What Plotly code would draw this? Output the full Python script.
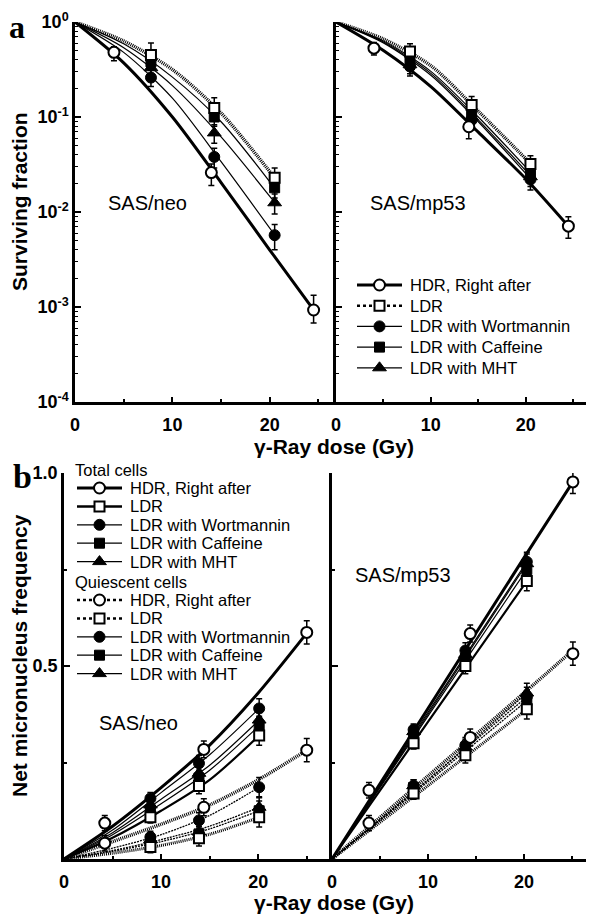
import plotly.graph_objects as go

# reference canvas (pixels) and the page's default 8px body margin
W, H = 594, 917
OFF = 8
FW, FH = W - OFF, H - OFF

# ================= Panel a : surviving fraction (log scale) =================
a_hdr_dose = [4.0, 14.0, 24.5]
a_ldr_dose = [7.8, 14.3, 20.5]

neo_hdr_sf = [0.48, 0.026, 0.00093]
neo_hdr_err_up = [0.07, 0.006, 0.0004]
neo_hdr_err_dn = [0.09, 0.007, 0.00025]
neo_ldr_sf = [0.45, 0.124, 0.023]
neo_ldr_err_up = [0.15, 0.035, 0.006]
neo_ldr_err_dn = [0.10, 0.030, 0.005]
neo_caf_sf = [0.38, 0.100, 0.018]
neo_caf_err = [0.07, 0.020, 0.004]
neo_mht_sf = [0.33, 0.068, 0.0125]
neo_mht_err = [0.06, 0.015, 0.003]
neo_wor_sf = [0.26, 0.038, 0.0057]
neo_wor_err = [0.05, 0.009, 0.0017]

mp_hdr_sf = [0.53, 0.079, 0.0071]
mp_hdr_err = [0.08, 0.020, 0.0018]
mp_ldr_sf = [0.49, 0.134, 0.032]
mp_ldr_err = [0.10, 0.030, 0.007]
mp_caf_sf = [0.38, 0.105, 0.026]
mp_mht_sf = [0.355, 0.100, 0.0235]
mp_wor_sf = [0.34, 0.093, 0.022]
mp_drug_err = [0.07, 0.020, 0.005]

# fitted curves
a_curve_hdr_dose = [0, 5, 10, 15, 20, 24.5]
a_curve_ldr_dose = [0, 5, 10, 15, 20.5]
neo_hdr_curve = [1, 0.372, 0.100, 0.0204, 0.00398, 0.00093]
neo_ldr_curve = [1, 0.631, 0.316, 0.110, 0.0229]
neo_caf_curve = [1, 0.589, 0.263, 0.0891, 0.0178]
neo_mht_curve = [1, 0.537, 0.214, 0.0617, 0.0126]
neo_wor_curve = [1, 0.479, 0.158, 0.0339, 0.00575]
mp_hdr_curve = [1, 0.501, 0.209, 0.0692, 0.0224, 0.00708]
mp_ldr_curve = [1, 0.661, 0.347, 0.115, 0.0324]
mp_caf_curve = [1, 0.631, 0.302, 0.100, 0.0263]
mp_mht_curve = [1, 0.617, 0.288, 0.0933, 0.0240]
mp_wor_curve = [1, 0.603, 0.275, 0.0891, 0.0224]

# ================= Panel b : net micronucleus frequency =================
b_neo_hdr_dose = [4.2, 14.4, 25.0]
b_neo_ldr_dose = [8.9, 13.9, 20.1]
b_mp_hdr_dose = [3.85, 14.4, 25.1]
b_mp_ldr_dose = [8.5, 13.9, 20.3]

neo_t_hdr = [0.093, 0.284, 0.587]
neo_t_ldr = [0.108, 0.189, 0.320]
neo_t_caf = [0.127, 0.210, 0.345]
neo_t_mht = [0.140, 0.222, 0.360]
neo_t_wor = [0.157, 0.248, 0.390]
neo_q_hdr = [0.041, 0.134, 0.282]
neo_q_ldr = [0.031, 0.054, 0.108]
neo_q_caf = [0.045, 0.065, 0.125]
neo_q_mht = [0.050, 0.070, 0.134]
neo_q_wor = [0.057, 0.100, 0.186]

mp_t_hdr = [0.178, 0.584, 0.977]
mp_t_ldr = [0.300, 0.500, 0.720]
mp_t_caf = [0.320, 0.520, 0.750]
mp_t_mht = [0.330, 0.530, 0.765]
mp_t_wor = [0.335, 0.540, 0.770]
mp_q_hdr = [0.093, 0.315, 0.532]
mp_q_ldr = [0.170, 0.269, 0.388]
mp_q_caf = [0.185, 0.285, 0.410]
mp_q_mht = [0.190, 0.290, 0.430]
mp_q_wor = [0.190, 0.295, 0.420]

b_err_small = [0.015, 0.020, 0.025]
b_err_hdr = [0.020, 0.022, 0.030]

# fitted curves
b_neo_curve_hdr_dose = [0, 5, 10, 15, 20, 25]
b_neo_curve_ldr_dose = [0, 5, 10, 15, 20.1]
neo_t_hdr_curve = [0, 0.085, 0.185, 0.295, 0.430, 0.585]
neo_t_ldr_curve = [0, 0.055, 0.125, 0.205, 0.320]
neo_t_caf_curve = [0, 0.063, 0.143, 0.230, 0.345]
neo_t_mht_curve = [0, 0.068, 0.155, 0.243, 0.360]
neo_t_wor_curve = [0, 0.075, 0.172, 0.270, 0.390]
neo_q_hdr_curve = [0, 0.045, 0.090, 0.140, 0.205, 0.282]
neo_q_ldr_curve = [0, 0.015, 0.035, 0.064, 0.108]
neo_q_caf_curve = [0, 0.020, 0.045, 0.078, 0.125]
neo_q_mht_curve = [0, 0.022, 0.050, 0.085, 0.134]
neo_q_wor_curve = [0, 0.028, 0.063, 0.113, 0.186]

b_mp_curve_hdr_dose = [0, 10, 20, 25.1]
b_mp_curve_qhdr_dose = [0, 10, 20, 24.7]
b_mp_curve_ldr_dose = [0, 10, 20.3]
mp_t_hdr_curve = [0, 0.390, 0.780, 0.977]
mp_t_ldr_curve = [0, 0.355, 0.720]
mp_t_caf_curve = [0, 0.370, 0.750]
mp_t_mht_curve = [0, 0.375, 0.765]
mp_t_wor_curve = [0, 0.380, 0.770]
mp_q_hdr_curve = [0, 0.215, 0.430, 0.532]
mp_q_ldr_curve = [0, 0.190, 0.388]
mp_q_caf_curve = [0, 0.200, 0.410]
mp_q_mht_curve = [0, 0.205, 0.430]
mp_q_wor_curve = [0, 0.205, 0.420]

legend_a_labels = ["HDR, Right after", "LDR", "LDR with Wortmannin",
                   "LDR with Caffeine", "LDR with MHT"]
legend_b_titles = ["Total cells", "Quiescent cells"]

# ================= styles =================
MARK = {
    'hdr': dict(symbol='circle', size=11, color='white', line=dict(color='black', width=2)),
    'ldr': dict(symbol='square', size=10, color='white', line=dict(color='black', width=2)),
    'wor': dict(symbol='circle', size=11, color='black', line=dict(color='black', width=1)),
    'caf': dict(symbol='square', size=10, color='black', line=dict(color='black', width=1)),
    'mht': dict(symbol='triangle-up', size=12, color='black', line=dict(color='black', width=1)),
}
HATCH = '1px,1px'
THIN_DASH = '2px,1px'
SANS = 'Liberation Sans'

fig = go.Figure()


def curve(x, y, xa, ya, width, dash='solid'):
    fig.add_trace(go.Scatter(x=x, y=y, mode='lines', xaxis=xa, yaxis=ya,
                             line=dict(color='black', width=width, dash=dash,
                                       shape='spline', smoothing=0.8),
                             showlegend=False, hoverinfo='skip'))


def points(x, y, up, dn, kind, xa, ya):
    fig.add_trace(go.Scatter(x=x, y=y, mode='markers', xaxis=xa, yaxis=ya,
                             marker=MARK[kind],
                             error_y=dict(type='data', symmetric=False, array=up,
                                          arrayminus=dn, color='black',
                                          thickness=1.5, width=3),
                             showlegend=False, hoverinfo='skip'))


# ---- panel a left (SAS/neo)
curve(a_curve_ldr_dose, neo_wor_curve, 'x', 'y', 1.2)
curve(a_curve_ldr_dose, neo_mht_curve, 'x', 'y', 1.2)
curve(a_curve_ldr_dose, neo_caf_curve, 'x', 'y', 1.2)
curve(a_curve_ldr_dose, neo_ldr_curve, 'x', 'y', 3.5, HATCH)
curve(a_curve_hdr_dose, neo_hdr_curve, 'x', 'y', 3)
points(a_ldr_dose, neo_mht_sf, neo_mht_err, neo_mht_err, 'mht', 'x', 'y')
points(a_ldr_dose, neo_caf_sf, neo_caf_err, neo_caf_err, 'caf', 'x', 'y')
points(a_ldr_dose, neo_wor_sf, neo_wor_err, neo_wor_err, 'wor', 'x', 'y')
points(a_hdr_dose, neo_hdr_sf, neo_hdr_err_up, neo_hdr_err_dn, 'hdr', 'x', 'y')
points(a_ldr_dose, neo_ldr_sf, neo_ldr_err_up, neo_ldr_err_dn, 'ldr', 'x', 'y')

# ---- panel a right (SAS/mp53)
curve(a_curve_ldr_dose, mp_wor_curve, 'x2', 'y2', 1.2)
curve(a_curve_ldr_dose, mp_mht_curve, 'x2', 'y2', 1.2)
curve(a_curve_ldr_dose, mp_caf_curve, 'x2', 'y2', 1.2)
curve(a_curve_ldr_dose, mp_ldr_curve, 'x2', 'y2', 3.5, HATCH)
curve(a_curve_hdr_dose, mp_hdr_curve, 'x2', 'y2', 3)
points(a_ldr_dose, mp_mht_sf, mp_drug_err, mp_drug_err, 'mht', 'x2', 'y2')
points(a_ldr_dose, mp_caf_sf, mp_drug_err, mp_drug_err, 'caf', 'x2', 'y2')
points(a_ldr_dose, mp_wor_sf, mp_drug_err, mp_drug_err, 'wor', 'x2', 'y2')
points(a_hdr_dose, mp_hdr_sf, mp_hdr_err, mp_hdr_err, 'hdr', 'x2', 'y2')
points(a_ldr_dose, mp_ldr_sf, mp_ldr_err, mp_ldr_err, 'ldr', 'x2', 'y2')

# ---- panel b left (SAS/neo)
for cv in (neo_q_wor_curve, neo_q_mht_curve, neo_q_caf_curve):
    curve(b_neo_curve_ldr_dose, cv, 'x3', 'y3', 1.3, THIN_DASH)
curve(b_neo_curve_ldr_dose, neo_q_ldr_curve, 'x3', 'y3', 3, HATCH)
curve(b_neo_curve_hdr_dose, neo_q_hdr_curve, 'x3', 'y3', 3.5, HATCH)
for cv in (neo_t_wor_curve, neo_t_mht_curve, neo_t_caf_curve):
    curve(b_neo_curve_ldr_dose, cv, 'x3', 'y3', 1.2)
curve(b_neo_curve_ldr_dose, neo_t_ldr_curve, 'x3', 'y3', 2.2)
curve(b_neo_curve_hdr_dose, neo_t_hdr_curve, 'x3', 'y3', 3)
for vals, kind in ((neo_q_mht, 'mht'), (neo_q_caf, 'caf'), (neo_q_wor, 'wor'),
                   (neo_t_mht, 'mht'), (neo_t_caf, 'caf'), (neo_t_wor, 'wor')):
    points(b_neo_ldr_dose, vals, b_err_small, b_err_small, kind, 'x3', 'y3')
points(b_neo_ldr_dose, neo_q_ldr, b_err_small, b_err_small, 'ldr', 'x3', 'y3')
points(b_neo_ldr_dose, neo_t_ldr, b_err_small, b_err_small, 'ldr', 'x3', 'y3')
points(b_neo_hdr_dose, neo_q_hdr, b_err_hdr, b_err_hdr, 'hdr', 'x3', 'y3')
points(b_neo_hdr_dose, neo_t_hdr, b_err_hdr, b_err_hdr, 'hdr', 'x3', 'y3')

# ---- panel b right (SAS/mp53)
for cv in (mp_q_wor_curve, mp_q_mht_curve, mp_q_caf_curve):
    curve(b_mp_curve_ldr_dose, cv, 'x4', 'y4', 1.3, THIN_DASH)
curve(b_mp_curve_ldr_dose, mp_q_ldr_curve, 'x4', 'y4', 3, HATCH)
curve(b_mp_curve_qhdr_dose, mp_q_hdr_curve, 'x4', 'y4', 3.5, HATCH)
for cv in (mp_t_wor_curve, mp_t_mht_curve, mp_t_caf_curve):
    curve(b_mp_curve_ldr_dose, cv, 'x4', 'y4', 1.2)
curve(b_mp_curve_ldr_dose, mp_t_ldr_curve, 'x4', 'y4', 2.2)
curve(b_mp_curve_hdr_dose, mp_t_hdr_curve, 'x4', 'y4', 3)
for vals, kind in ((mp_q_mht, 'mht'), (mp_q_caf, 'caf'), (mp_q_wor, 'wor'),
                   (mp_t_mht, 'mht'), (mp_t_caf, 'caf'), (mp_t_wor, 'wor')):
    points(b_mp_ldr_dose, vals, b_err_small, b_err_small, kind, 'x4', 'y4')
points(b_mp_ldr_dose, mp_q_ldr, b_err_small, b_err_small, 'ldr', 'x4', 'y4')
points(b_mp_ldr_dose, mp_t_ldr, b_err_small, b_err_small, 'ldr', 'x4', 'y4')
points(b_mp_hdr_dose, mp_q_hdr, b_err_hdr, b_err_hdr, 'hdr', 'x4', 'y4')
points(b_mp_hdr_dose, mp_t_hdr, b_err_hdr, b_err_hdr, 'hdr', 'x4', 'y4')

# ================= manual legends (pixel overlay axis x5/y5) =================
annotations = []


def legend_row(ypx, x0, x1, kind, width, dash, text):
    fig.add_trace(go.Scatter(x=[x0, x1], y=[ypx, ypx], mode='lines', xaxis='x5', yaxis='y5',
                             line=dict(color='black', width=width, dash=dash),
                             showlegend=False, hoverinfo='skip'))
    fig.add_trace(go.Scatter(x=[(x0 + x1) / 2], y=[ypx], mode='markers', xaxis='x5', yaxis='y5',
                             marker=MARK[kind], showlegend=False, hoverinfo='skip'))
    annotations.append(dict(x=x1 + 6, y=ypx, xref='x5', yref='y5', text=text, showarrow=False,
                            xanchor='left', yanchor='middle',
                            font=dict(family=SANS, size=16.5, color='black')))


kinds = ['hdr', 'ldr', 'wor', 'caf', 'mht']
# panel a legend
a_styles = [(3, 'solid'), (2.5, 'dot'), (1.2, 'solid'), (1.2, 'solid'), (1.2, 'solid')]
for i, (k, (w, d)) in enumerate(zip(kinds, a_styles)):
    legend_row(285 + 20.7 * i, 357, 402, k, w, d, legend_a_labels[i])

# panel b legend
tot_styles = [(3, 'solid'), (2.5, 'solid'), (1.2, 'solid'), (1.2, 'solid'), (1.2, 'solid')]
q_styles = [(2.5, 'dot'), (2.5, 'dot'), (1.2, 'solid'), (1.2, 'solid'), (1.2, 'solid')]
for g, (title, styles, y0) in enumerate(((legend_b_titles[0], tot_styles, 470),
                                         (legend_b_titles[1], q_styles, 582))):
    annotations.append(dict(x=73, y=y0, xref='x5', yref='y5', text=title, showarrow=False,
                            xanchor='left', yanchor='middle',
                            font=dict(family=SANS, size=16.5, color='black')))
    for i, (k, (w, d)) in enumerate(zip(kinds, styles)):
        legend_row(y0 + 18 + 18.4 * i, 77, 122, k, w, d, legend_a_labels[i])

# ================= texts =================
def txt(x, y, s, size, bold=False, family=SANS, angle=0):
    annotations.append(dict(x=x, y=y, xref='x5', yref='y5', text=s, showarrow=False,
                            xanchor='center', yanchor='middle', textangle=angle,
                            font=dict(family=family, size=size, color='black',
                                      weight='bold' if bold else 'normal')))


txt(17, 27, 'a', 32, True, 'Liberation Serif')
txt(22, 476, 'b', 34, True, 'Liberation Serif')
txt(19, 202, 'Surviving fraction', 21, True, angle=-90)
txt(19, 656, 'Net micronucleus frequency', 21, True, angle=-90)
txt(334, 446, 'γ-Ray dose (Gy)', 21, True)
txt(334, 902, 'γ-Ray dose (Gy)', 21, True)
txt(147, 203, 'SAS/neo', 20)
txt(418, 203, 'SAS/mp53', 20)
txt(138, 723, 'SAS/neo', 20)
txt(403, 575, 'SAS/mp53', 20)

# ================= axes =================
TICKFONT = dict(family=SANS, size=18, color='black', weight='bold')


def px_x(a, b):
    return [(a - OFF) / FW, (b - OFF) / FW]


def px_y(top, bottom):
    return [1 - (bottom - OFF) / FH, 1 - (top - OFF) / FH]


def xaxis(domain, rng, anchor):
    return dict(domain=domain, range=rng, anchor=anchor, showline=True, linecolor='black',
                linewidth=2.5, ticks='inside', ticklen=5, tickwidth=2, tickcolor='black',
                tickmode='array', tickvals=[0, 10, 20], ticktext=['0', '10', '20'],
                minor=dict(tickvals=[5, 15, 25], ticks='inside', ticklen=3, tickwidth=1.5,
                           tickcolor='black'),
                showgrid=False, zeroline=False, tickfont=TICKFONT, ticklabelstandoff=5,
                fixedrange=True, automargin=False)


log_minor = [k * 10.0 ** e for e in range(-4, 0) for k in range(2, 10)]


def yaxis_log(domain, anchor, labels):
    return dict(domain=domain, type='log', range=[-4, 0], anchor=anchor, showline=True,
                linecolor='black', linewidth=2.5, ticks='inside', ticklen=6, tickwidth=2,
                tickcolor='black', tickmode='array',
                tickvals=[1, 0.1, 0.01, 0.001, 0.0001],
                ticktext=['10<sup>0</sup>', '10<sup>-1</sup>', '10<sup>-2</sup>',
                          '10<sup>-3</sup>', '10<sup>-4</sup>'],
                showticklabels=labels,
                minor=dict(tickvals=log_minor, ticks='inside', ticklen=3, tickwidth=1.2,
                           tickcolor='black'),
                showgrid=False, zeroline=False, tickfont=TICKFONT, fixedrange=True,
                automargin=False)


def yaxis_lin(domain, anchor, labels):
    return dict(domain=domain, range=[0, 1.0], anchor=anchor, showline=True,
                linecolor='black', linewidth=2.5, ticks='inside', ticklen=6, tickwidth=2,
                tickcolor='black', tickmode='array', tickvals=[0.5, 1.0],
                ticktext=['0.5', '1.0'], showticklabels=labels,
                minor=dict(tickvals=[0.25, 0.75], ticks='inside', ticklen=3, tickwidth=1.5,
                           tickcolor='black'),
                showgrid=False, zeroline=False, tickfont=TICKFONT, fixedrange=True,
                automargin=False)


ya = px_y(22, 402)
yb = px_y(473, 859)

fig.update_layout(
    width=FW, height=FH, margin=dict(l=0, r=0, t=0, b=0, pad=0, autoexpand=False),
    paper_bgcolor='white', plot_bgcolor='rgba(0,0,0,0)', showlegend=False,
    xaxis=xaxis(px_x(75, 336), [0, 26.8], 'y'),
    yaxis=yaxis_log(ya, 'x', True),
    xaxis2=xaxis(px_x(336, 594), [0, 27.2], 'y2'),
    yaxis2=yaxis_log(ya, 'x2', False),
    xaxis3=xaxis(px_x(64, 332), [0, 27.6], 'y3'),
    yaxis3=yaxis_lin(yb, 'x3', True),
    xaxis4=xaxis(px_x(332, 594), [0, 27.3], 'y4'),
    yaxis4=yaxis_lin(yb, 'x4', False),
    xaxis5=dict(domain=[0, 1], range=[OFF, W], visible=False, anchor='y5', fixedrange=True,
                automargin=False),
    yaxis5=dict(domain=[0, 1], range=[H, OFF], visible=False, anchor='x5', fixedrange=True,
                automargin=False),
    annotations=annotations,
)

fig.write_html("out.html")
